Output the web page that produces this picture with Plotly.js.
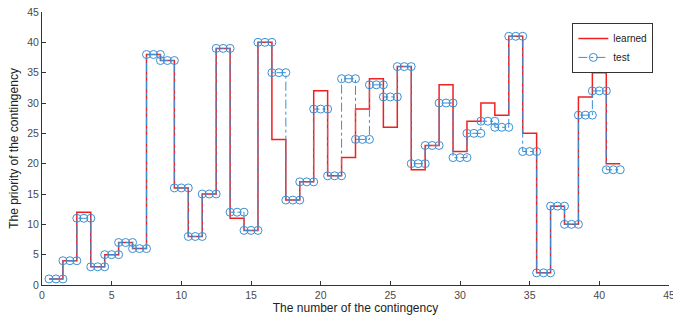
<!DOCTYPE html>
<html>
<head>
<meta charset="utf-8">
<script src="https://cdn.plot.ly/plotly-3.0.1.min.js"></script>
<style>html,body{margin:0;padding:0;background:#fff;}#chart{width:673px;height:321px;}</style>
</head>
<body>
<div id="chart"></div>
<script>
// Contingency index 1..41
const contingency = Array.from({length: 41}, (_, i) => i + 1);
const learned = [1,4,12,3,5,7,6,38,37,16,8,15,39,11,9,40,24,14,17,32,18,21,29,34,26,36,19,23,33,22,27,30,28,41,25,2,13,10,31,35,20];
const test    = [1,4,11,3,5,7,6,38,37,16,8,15,39,12,9,40,35,14,17,29,18,34,24,33,31,36,20,23,30,21,25,27,26,41,22,2,13,10,28,32,19];
const xTicks = [0,5,10,15,20,25,30,35,40,45];
const yTicks = [0,5,10,15,20,25,30,35,40,45];

// learned: stair edges from (n-0.5) to (n+0.5)
const lx = contingency.map(n => n - 0.5).concat([contingency[contingency.length-1] + 0.5]);
const ly = learned.concat([learned[learned.length-1]]);

// test: each contingency sampled at left edge, centre, right edge
const tx = [], ty = [];
contingency.forEach((n, i) => {
  [n - 0.5, n, n + 0.5].forEach(x => { tx.push(x); ty.push(test[i]); });
});

const traces = [
  {x: lx, y: ly, name: 'learned', mode: 'lines', type: 'scatter',
   line: {shape: 'hv', color: '#f02020', width: 1.5}},
  {x: tx, y: ty, name: 'test', mode: 'lines+markers', type: 'scatter',
   line: {color: '#3a8fd4', width: 1, dash: 'dashdot'},
   marker: {symbol: 'circle-open', size: 8, color: '#3a8fd4', line: {width: 1, color: '#3a8fd4'}}}
];

const fnt = {family: 'Liberation Sans, Arial, sans-serif', size: 10.5, color: '#4a4a4a'};
const layout = {
  width: 673, height: 321,
  margin: {l: 42, r: 4, t: 12, b: 36},
  paper_bgcolor: '#fff', plot_bgcolor: '#fff',
  showlegend: true,
  legend: {x: 0.975, y: 0.96, xanchor: 'right', yanchor: 'top',
    bordercolor: '#333', borderwidth: 1, bgcolor: '#fff',
    font: {family: 'Liberation Sans, Arial, sans-serif', size: 10, color: '#222'},
    tracegroupgap: 0, itemwidth: 30},
  xaxis: {range: [0, 45], tickvals: xTicks, ticktext: xTicks.map(String), automargin: false,
    ticklabeloverflow: 'allow',
    ticks: 'inside', ticklen: 4, tickcolor: '#333', showline: true, linecolor: '#333', linewidth: 1,
    showgrid: false, zeroline: false, tickfont: fnt,
    title: {text: 'The number of the contingency', font: {family: 'Liberation Sans, Arial, sans-serif', size: 12, color: '#222'}, standoff: 4}},
  yaxis: {range: [0, 45], tickvals: yTicks, ticktext: yTicks.map(String), automargin: false,
    ticklabeloverflow: 'allow',
    ticks: 'inside', ticklen: 4, tickcolor: '#333', showline: true, linecolor: '#333', linewidth: 1,
    showgrid: false, zeroline: false, tickfont: fnt,
    title: {text: 'The priority of the contingency', font: {family: 'Liberation Sans, Arial, sans-serif', size: 12, color: '#222'}, standoff: 6}}
};

Plotly.newPlot('chart', traces, layout, {displayModeBar: false, staticPlot: true});
</script>
</body>
</html>
